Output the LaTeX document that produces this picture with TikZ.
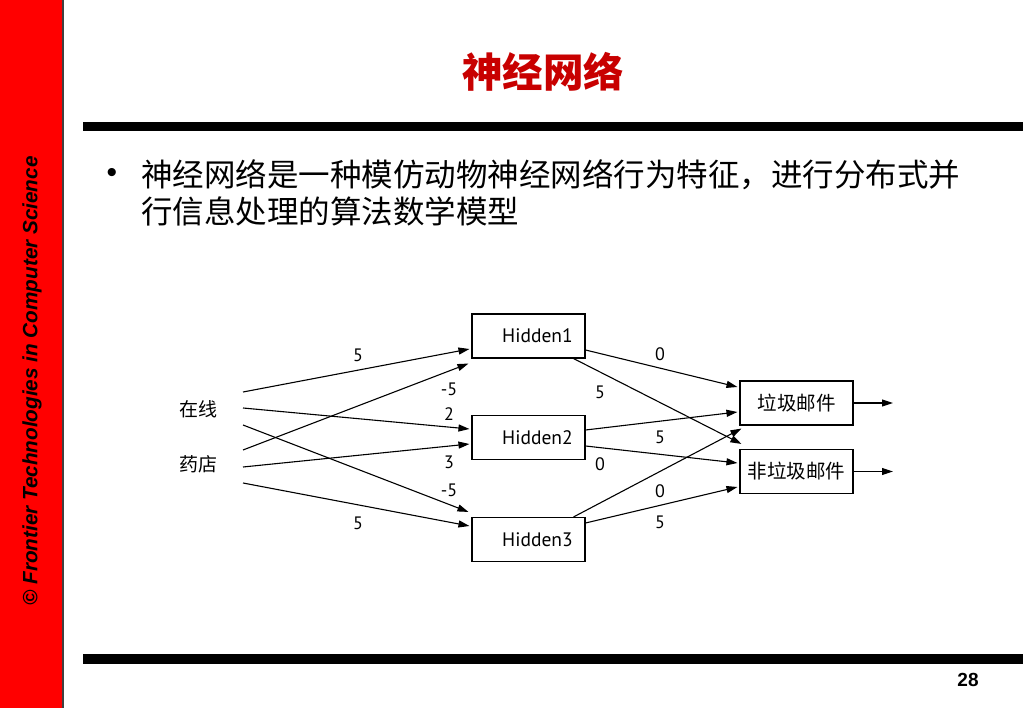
\documentclass[tikz,border=0pt]{standalone}
\usepackage{fontspec}
\setmainfont{Liberation Sans}
\newfontfamily\cjk{Noto Sans CJK SC}
\newfontfamily\ptsans{PT Sans}
\usetikzlibrary{arrows.meta}
\definecolor{titlered}{RGB}{200,0,0}
\tikzset{
  box/.style={draw, line width=1.1pt, minimum width=113pt, minimum height=44pt, inner sep=0pt},
  edge/.style={-{Triangle[length=11pt,width=7pt]}, line width=1.1pt},
  wlab/.style={font=\ptsans\fontsize{18}{18}\selectfont, inner sep=0pt},
  hlab/.style={font=\ptsans\fontsize{19.5}{19.5}\selectfont},
  clab/.style={font=\cjk\fontsize{19}{19}\selectfont, inner sep=0pt},
  body/.style={font=\cjk\fontsize{31.5}{31.5}\selectfont, inner sep=0pt, anchor=west}
}
\begin{document}
\begin{tikzpicture}[x=1pt,y=-1pt]
\useasboundingbox (0,0) rectangle (1023,708);
\fill[white] (0,0) rectangle (1023,708);
% side bar
\fill[red] (0,0) rectangle (63,708);
\draw[line width=1.5pt, black!75] (63,0) -- (63,708);
\node[rotate=90, font=\fontsize{20.7}{20.7}\selectfont\bfseries\itshape, inner sep=0pt] (side) at (32,381) {© Frontier Technologies in Computer Science};
% rules
\fill (83,122) rectangle (1023,131);
\fill (83,654) rectangle (1023,664);
% title
\node[font=\cjk\bfseries\fontsize{40.5}{40.5}\selectfont, text=titlered, inner sep=0pt] (title) at (543,72) {神经网络};
% bullet text
\node[font=\fontsize{30}{30}\selectfont, inner sep=0pt] (bul) at (112,176) {•};
\node[body] (l1) at (141,175) {神经网络是一种模仿动物神经网络行为特征，进行分布式并};
\node[body] (l2) at (141,211) {行信息处理的算法数学模型};
% page number
\node[font=\bfseries\fontsize{19}{19}\selectfont, inner sep=0pt] (pg) at (968,680) {28};
% boxes
\node[box, hlab] (h1) at (528.5,336) {\hspace{18pt}Hidden1};
\node[box, hlab] (h2) at (528.5,437.5) {\hspace{18pt}Hidden2};
\node[box, hlab] (h3) at (528.5,539.5) {\hspace{18pt}Hidden3};
\node[box, font=\cjk\fontsize{19.5}{19.5}\selectfont] (o1) at (796.5,403) {垃圾邮件};
\node[box, font=\cjk\fontsize{19.5}{19.5}\selectfont] (o2) at (796.5,471.5) {非垃圾邮件};
% inputs
\node[clab] (in1) at (198,409) {在线};
\node[clab] (in2) at (198,464) {药店};
\coordinate (i1) at (243,392);
\coordinate (i2) at (243,408);
\coordinate (i3) at (243,425);
\coordinate (j1) at (243,450);
\coordinate (j2) at (243,467);
\coordinate (j3) at (243,483);
\coordinate (e1) at (893,403);
\coordinate (e2) at (893,471.5);
% input edges
\draw[edge] (i1) -- ([xshift=-2pt,yshift=-13pt]h1.west);
\draw[edge] (i2) -- ([xshift=-2pt,yshift=8.5pt]h2.west);
\draw[edge] (i3) -- ([xshift=-3pt,yshift=5pt]h3.north west);
\draw[edge] (j1) -- ([xshift=-3pt,yshift=-5pt]h1.south west);
\draw[edge] (j2) -- ([xshift=-2pt,yshift=-6.5pt]h2.west);
\draw[edge] (j3) -- ([xshift=-2pt,yshift=13.5pt]h3.west);
% hidden to output
\draw[edge] ([yshift=-14pt]h1.east) -- ([xshift=-2pt,yshift=16pt]o1.west);
\draw[edge] ([xshift=-12pt]h1.south east) -- ([xshift=2pt,yshift=5pt]o2.north west);
\draw[edge] ([yshift=7.5pt]h2.east) -- ([xshift=-2pt,yshift=-9pt]o1.west);
\draw[edge] ([yshift=-8.5pt]h2.east) -- ([xshift=-2pt,yshift=8.5pt]o2.west);
\draw[edge] ([xshift=-12pt]h3.north east) -- ([xshift=2pt,yshift=-3pt]o1.south west);
\draw[edge] ([yshift=16.5pt]h3.east) -- ([xshift=-2pt,yshift=-15.5pt]o2.west);
% outputs
\draw[edge] (o1.east) -- (e1);
\draw[edge] (o2.east) -- (e2);
% weight labels
\node[wlab] at (358,355) {5};
\node[wlab] at (449,389) {-5};
\node[wlab] at (449,414) {2};
\node[wlab] at (449,462) {3};
\node[wlab] at (449,490) {-5};
\node[wlab] at (358,523) {5};
\node[wlab] at (600,392) {5};
\node[wlab] at (600,464) {0};
\node[wlab] at (660,354) {0};
\node[wlab] at (660,437) {5};
\node[wlab] at (660,491) {0};
\node[wlab] at (660,522) {5};
\end{tikzpicture}
\end{document}
